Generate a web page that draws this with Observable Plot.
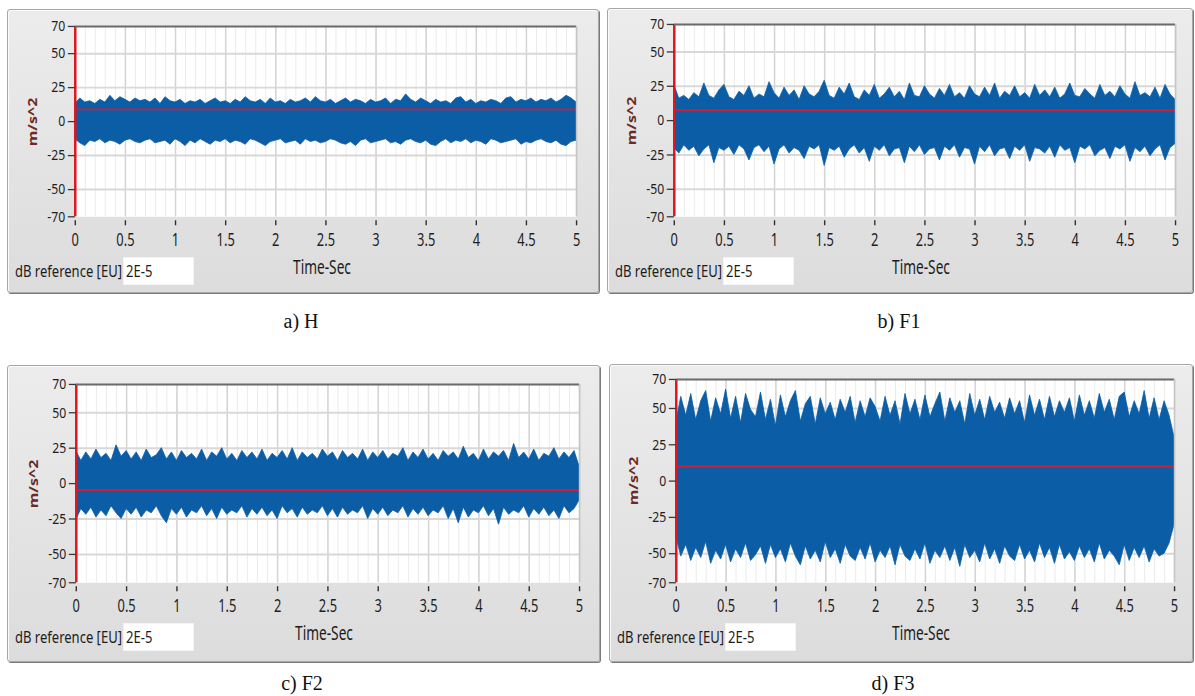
<!DOCTYPE html>
<html>
<head>
<meta charset="utf-8">
<script src="https://cdn.jsdelivr.net/npm/d3@7"></script>
<script src="https://cdn.jsdelivr.net/npm/@observablehq/plot@0.6"></script>
<style>
  html, body { margin: 0; padding: 0; background: #fff; }
  #root { position: relative; width: 1195px; height: 696px; overflow: hidden; font-family: "Noto Sans", "Open Sans", sans-serif; }
  .frame { position: absolute; box-sizing: border-box; border: 1px solid #a7a7a7; border-radius: 3px;
           background: linear-gradient(#ececec, #dcdcdc); box-shadow: 1px 1px 0 #7a7a7a, inset 1px 1px 0 #fbfbfb; }
  .frame svg { position: absolute; left: -1px; top: -1px; }
  .lv { position: absolute; white-space: nowrap; color: #1c1c1c; font-family: "Noto Sans", "Open Sans", sans-serif; }
  .box { position: absolute; background: #fff; box-sizing: border-box; border: 1px solid #f4f4f4; }
  .cap { position: absolute; white-space: nowrap; font-family: "Liberation Serif", "Times New Roman", serif; font-size: 20px; color: #111; transform: translate(-50%, -50%); }
</style>
</head>
<body>
<div id="root"></div>
<script>
// ---------- data (upper / lower envelope of each signal, every 0.05 s) ----------
const xTicks = [0, 0.5, 1, 1.5, 2, 2.5, 3, 3.5, 4, 4.5, 5];
const xTickLabels = ["0", "0.5", "1", "1.5", "2", "2.5", "3", "3.5", "4", "4.5", "5"];
const yTicks = [70, 50, 25, 0, -25, -50, -70];
const yGrid = [50, 25, 0, -25, -50];
const minorX = d3.range(0, 51).map(i => i / 10);
const sampleTimes = d3.range(0, 101).map(i => i * 0.05);
const captions = ["a) H", "b) F1", "c) F2", "d) F3"];
const cursorT = 0;
const cursorY = [9, 7.5, -4.5, 10];

const hiA = [13,17,14,15,13,16,14,19,15,18, 16,14,17,15,16,14,17,13,18,15, 14,16,13,15,14,16,13,15,17,14,
             15,13,16,14,18,15,14,16,13,17, 14,15,13,16,14,15,17,14,18,15, 14,16,13,15,17,14,16,15,13,16,
             14,15,17,13,16,15,20,16,14,17, 15,13,16,14,15,13,17,18,14,16, 13,15,14,16,15,13,17,18,14,16,
             15,17,14,16,15,17,14,16,19,17, 14];
const loA = [-13,-16,-18,-14,-15,-13,-16,-14,-15,-17, -14,-13,-15,-16,-14,-13,-16,-15,-14,-17,
             -13,-15,-18,-14,-16,-13,-15,-17,-14,-15, -13,-16,-14,-15,-17,-13,-14,-16,-18,-15,
             -14,-13,-16,-15,-14,-17,-13,-15,-14,-16, -15,-13,-14,-16,-17,-15,-18,-14,-13,-16,
             -15,-14,-13,-16,-15,-17,-14,-13,-15,-16, -14,-17,-18,-15,-13,-16,-14,-15,-13,-16,
             -14,-15,-17,-13,-14,-16,-15,-14,-13,-17, -15,-16,-14,-13,-15,-16,-14,-17,-18,-15, -14];
const hiB = [26,16,18,15,20,17,27,18,16,22, 26,17,15,21,18,25,16,19,17,28, 20,16,24,18,22,15,25,19,17,21,
             29,18,16,24,19,27,17,15,22,18, 26,16,19,24,17,21,15,27,18,17, 25,19,16,23,18,26,17,20,16,25,
             19,17,24,18,27,16,21,18,25,17, 20,16,26,18,22,17,24,16,19,27, 18,17,23,19,16,26,18,21,17,25,
             19,16,28,18,20,17,24,16,26,19, 15];
const loB = [-20,-24,-18,-22,-19,-26,-21,-18,-31,-20, -22,-19,-25,-18,-21,-29,-20,-18,-23,-19,
             -32,-21,-18,-24,-20,-22,-28,-19,-21,-18, -33,-20,-22,-19,-27,-21,-18,-24,-20,-30,
             -19,-22,-18,-26,-21,-20,-31,-19,-23,-18, -25,-21,-20,-29,-19,-22,-18,-27,-20,-21,
             -32,-19,-23,-18,-26,-21,-20,-28,-19,-22, -18,-30,-20,-21,-24,-19,-27,-18,-22,-20,
             -31,-19,-21,-18,-26,-22,-20,-28,-19,-21, -18,-30,-20,-23,-19,-26,-21,-18,-29,-20, -17];
const hiC = [23,16,22,17,24,18,21,16,27,19, 23,17,22,16,24,18,20,25,17,22, 16,23,18,21,17,24,16,22,19,25,
             17,21,16,23,18,22,17,24,16,21, 18,23,17,25,16,22,18,21,17,24, 19,22,16,23,18,21,17,24,16,22,
             18,23,17,21,19,25,16,22,18,24, 17,21,16,23,19,22,17,26,18,21, 16,24,17,22,19,23,16,28,18,22,
             17,24,16,21,19,25,17,22,18,23, 12];
const loC = [-26,-18,-22,-17,-24,-19,-23,-16,-21,-25, -18,-22,-17,-24,-19,-21,-16,-23,-28,-18,
             -22,-17,-24,-19,-21,-16,-23,-18,-25,-17, -22,-19,-21,-16,-24,-18,-22,-17,-23,-19,
             -25,-16,-21,-18,-24,-17,-22,-19,-21,-16, -23,-18,-24,-17,-22,-19,-21,-16,-25,-18,
             -22,-17,-23,-19,-21,-16,-24,-18,-22,-17, -23,-19,-21,-16,-25,-18,-28,-17,-24,-19,
             -21,-16,-23,-18,-29,-17,-22,-19,-21,-16, -24,-18,-22,-17,-23,-19,-25,-16,-21,-18, -12];
const hiD = [40,58,45,60,42,55,62,41,57,46, 63,43,58,40,60,49,44,61,42,56, 38,59,44,55,62,41,53,58,39,57,
             46,54,42,56,47,58,40,55,44,57, 51,41,58,45,55,39,60,46,56,42, 59,44,53,61,41,57,47,55,39,60,
             45,56,42,58,47,54,43,57,46,55, 40,59,45,56,42,58,44,55,47,57, 41,59,45,55,43,60,47,56,42,58,
             61,44,55,46,62,43,57,42,55,45, 30];
const loD = [-38,-52,-44,-55,-46,-53,-42,-57,-48,-54, -44,-56,-47,-53,-43,-55,-51,-45,-57,-44,
             -53,-47,-56,-43,-52,-58,-45,-54,-48,-56, -42,-53,-47,-57,-44,-52,-55,-46,-54,-43,
             -56,-48,-53,-45,-58,-44,-52,-55,-47,-54, -43,-57,-48,-53,-45,-55,-46,-59,-44,-53,
             -48,-56,-43,-54,-47,-57,-45,-52,-55,-44, -54,-48,-56,-43,-53,-46,-57,-44,-54,-49,
             -55,-45,-53,-47,-56,-43,-54,-48,-52,-58, -44,-55,-46,-53,-45,-56,-47,-52,-50,-43, -30];

const highs = [hiA, hiB, hiC, hiD];
const lows = [loA, loB, loC, loD];

// ---------- layout (page pixels) ----------
const layout = [
  {left: 7,   top: 9,   w: 592, h: 284, x0: 75,  x5: 578,  yT: 26,  yB: 217, capX: 301, capY: 321},
  {left: 607, top: 8,   w: 586, h: 285, x0: 674, x5: 1177, yT: 24,  yB: 217, capX: 899, capY: 321},
  {left: 7,   top: 365, w: 593, h: 297, x0: 76,  x5: 581,  yT: 384, yB: 583, capX: 302, capY: 683},
  {left: 609, top: 364, w: 584, h: 298, x0: 676, x5: 1176, yT: 379, yB: 583, capX: 893, capY: 683}
];
const blue = "#0b5da6";

const root = document.getElementById("root");

function squeeze(svg, sel, k) {
  d3.select(svg).selectAll(sel).each(function () {
    const tr = this.getAttribute("transform") || "";
    this.setAttribute("transform", tr + ` scale(${k},1)`);
  });
}

function addText(cls, html, left, top, style) {
  const d = document.createElement("div");
  d.className = cls;
  d.innerHTML = html;
  d.style.left = left + "px";
  d.style.top = top + "px";
  Object.assign(d.style, style || {});
  root.appendChild(d);
  return d;
}

layout.forEach((p, k) => {
  const rows = sampleTimes.map((t, i) => ({t, hi: highs[k][i], lo: lows[k][i]}));
  const frame = document.createElement("div");
  frame.className = "frame";
  Object.assign(frame.style, {left: p.left + "px", top: p.top + "px", width: p.w + "px", height: p.h + "px"});
  root.appendChild(frame);

  // tick marks of the x axis sit a few pixels below the plot area
  const upp = 140 / (p.yB - p.yT);           // data units per pixel
  const tickTop = -70 - 4 * upp, tickBot = -70 - 9 * upp;

  const svg = Plot.plot({
    width: p.w,
    height: p.h,
    marginLeft: p.x0 - p.left,
    marginRight: p.left + p.w - p.x5,
    marginTop: p.yT - p.top,
    marginBottom: p.top + p.h - p.yB,
    x: {domain: [0, 5], label: null},
    y: {domain: [-70, 70], label: null},
    style: {background: "transparent", overflow: "visible", fontFamily: "'Noto Sans', 'Open Sans', sans-serif", fontSize: "16px", color: "#1e1e1e"},
    marks: [
      Plot.frame({fill: "white", stroke: "none"}),
      Plot.ruleX(minorX, {stroke: "#ebebeb", strokeWidth: 1}),
      Plot.ruleX(xTicks, {stroke: "#d4d4d4", strokeWidth: 1.5}),
      Plot.ruleY(yGrid, {stroke: "#d8d8d8", strokeWidth: 2}),
      Plot.areaY(rows, {x: "t", y1: "lo", y2: "hi", fill: blue, stroke: blue, strokeWidth: 0.8, curve: "linear"}),
      Plot.ruleY([cursorY[k]], {stroke: "#c9203a", strokeWidth: 2}),
      Plot.ruleX([cursorT], {stroke: "#e3141c", strokeWidth: 2.5}),
      Plot.ruleY([70], {stroke: "#6a6a6a", strokeWidth: 2}),
      Plot.ruleX([5], {stroke: "#c6c6c6", strokeWidth: 1.5}),
      Plot.ruleX(xTicks, {y1: tickTop, y2: tickBot, stroke: "#2e2e2e", strokeWidth: 1.4, clip: false}),
      Plot.axisX(xTicks, {tickSize: 0, tickPadding: 16, fontSize: 19,
                          tickFormat: (d) => xTickLabels[xTicks.indexOf(d)], label: null}),
      Plot.axisY(yTicks, {tickSize: 7, tickPadding: 3, fontSize: 15, stroke: "#3a3a3a", strokeWidth: 1.3,
                          tickFormat: (d) => String(d), label: null})
    ]
  });
  frame.appendChild(svg);
  squeeze(svg, 'g[aria-label="x-axis tick label"] text', 0.68);
  squeeze(svg, 'g[aria-label="y-axis tick label"] text', 0.82);

  // y label (rotated)
  const yZero = p.yT + (p.yB - p.yT) / 2;
  addText("lv", "m/s^2", p.x0 - 43, yZero, {fontSize: "16px", fontWeight: "700", color: "#6a2b25",
          transform: "translate(-50%,-50%) rotate(-90deg) scale(1,0.8)"});
  // x label
  addText("lv", "Time-Sec", (p.x0 + p.x5) / 2 - 5, p.yB + 50, {fontSize: "19px",
          transform: "translate(-50%,-50%) scale(0.72,1)"});
  // dB reference control
  const boxTop = p.yB + 40, boxLeft = p.left + 116;
  addText("box", "", boxLeft, boxTop, {width: "71px", height: "28px"});
  addText("lv", "dB reference [EU]", p.left + 8, boxTop + 14, {fontSize: "15.5px", transformOrigin: "0 50%",
          transform: "translateY(-50%) scale(0.84,1)"});
  addText("lv", "2E-5", boxLeft + 3, boxTop + 14, {fontSize: "15.5px", transformOrigin: "0 50%",
          transform: "translateY(-50%) scale(0.84,1)"});
  // caption
  addText("cap", captions[k], p.capX, p.capY, {});
});
</script>
</body>
</html>
